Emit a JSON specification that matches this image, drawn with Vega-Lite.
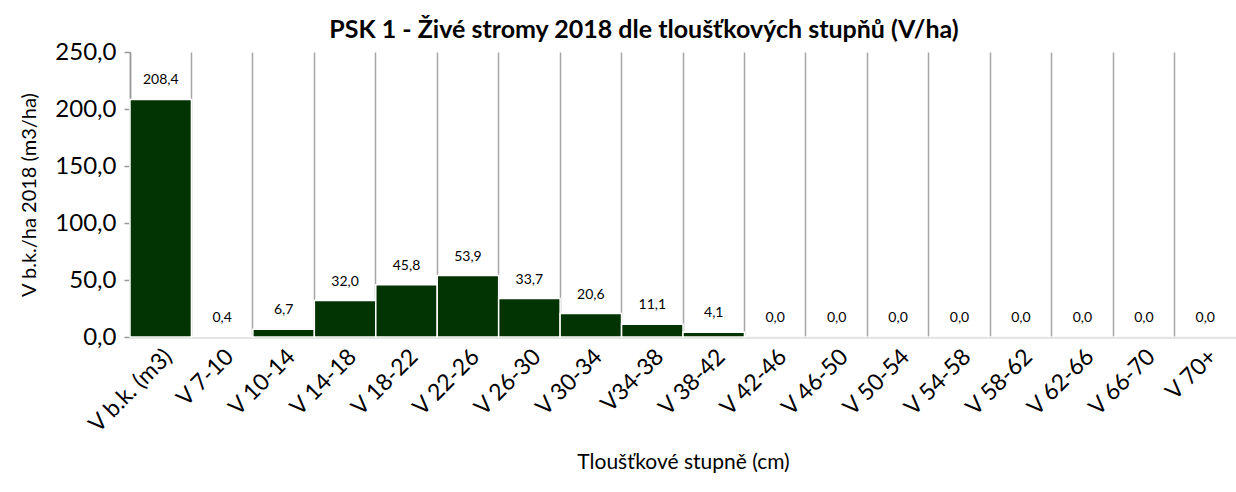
{
  "$schema": "https://vega.github.io/schema/vega-lite/v6.json",
  "width": 1106,
  "height": 285,
  "autosize": {"type": "none"},
  "padding": {"left": 130, "top": 52, "right": 0, "bottom": 155},
  "config": {
    "view": {"stroke": null},
    "font": "Lato",
    "locale": {"number": {"decimal": ",", "thousands": " ", "grouping": [3], "currency": ["", ""]}}
  },
  "title": {
    "text": "PSK 1 - Živé stromy 2018 dle tloušťkových stupňů  (V/ha)",
    "font": "Lato",
    "fontSize": 25,
    "fontWeight": "bold",
    "color": "#000000",
    "anchor": "middle",
    "dx": -39,
    "offset": -3
  },
  "data": {
    "values": [
      {"k": "V  b.k. (m3)", "v": 208.4},
      {"k": "V 7-10", "v": 0.4},
      {"k": "V 10-14", "v": 6.7},
      {"k": "V 14-18", "v": 32.0},
      {"k": "V 18-22", "v": 45.8},
      {"k": "V 22-26", "v": 53.9},
      {"k": "V 26-30", "v": 33.7},
      {"k": "V 30-34", "v": 20.6},
      {"k": "V34-38", "v": 11.1},
      {"k": "V 38-42", "v": 4.1},
      {"k": "V 42-46", "v": 0.0},
      {"k": "V 46-50", "v": 0.0},
      {"k": "V 50-54", "v": 0.0},
      {"k": "V 54-58", "v": 0.0},
      {"k": "V 58-62", "v": 0.0},
      {"k": "V 62-66", "v": 0.0},
      {"k": "V 66-70", "v": 0.0},
      {"k": "V 70+", "v": 0.0}
    ]
  },
  "encoding": {
    "x": {
      "field": "k",
      "type": "nominal",
      "sort": null,
      "scale": {"paddingInner": 0, "paddingOuter": 0},
      "axis": {
        "title": "Tloušťkové stupně (cm)",
        "titleFontSize": 21,
        "titleFontWeight": "normal",
        "titleColor": "#000000",
        "titlePadding": 10,
        "labelAngle": -45,
        "labelAlign": "right",
        "labelBaseline": "top",
        "labelFontSize": 23,
        "labelColor": "#000000",
        "labelPadding": 8,
        "ticks": false,
        "domainColor": "#999999",
        "domainWidth": 1.5,
        "grid": true,
        "bandPosition": 0,
        "gridColor": "#a6a6a6",
        "gridWidth": 1.5
      }
    },
    "y": {
      "field": "v",
      "type": "quantitative",
      "scale": {"domain": [0, 250], "nice": false},
      "axis": {
        "title": "V b.k./ha 2018 (m3/ha)",
        "titleFontSize": 20,
        "titleFontWeight": "normal",
        "titleColor": "#000000",
        "titlePadding": 15,
        "values": [0, 50, 100, 150, 200, 250],
        "format": ".1f",
        "labelFontSize": 24,
        "labelColor": "#000000",
        "labelPadding": 8,
        "tickColor": "#999999",
        "tickSize": 6,
        "tickWidth": 1.5,
        "domainColor": "#999999",
        "domainWidth": 1.5,
        "grid": false
      }
    }
  },
  "layer": [
    {
      "mark": {"type": "bar", "color": "#023302", "stroke": "#ffffff", "strokeWidth": 1.5}
    },
    {
      "mark": {"type": "text", "baseline": "bottom", "dy": -12, "fontSize": 14, "color": "#000000", "font": "Lato"},
      "encoding": {"text": {"field": "v", "type": "quantitative", "format": ".1f"}}
    }
  ]
}
